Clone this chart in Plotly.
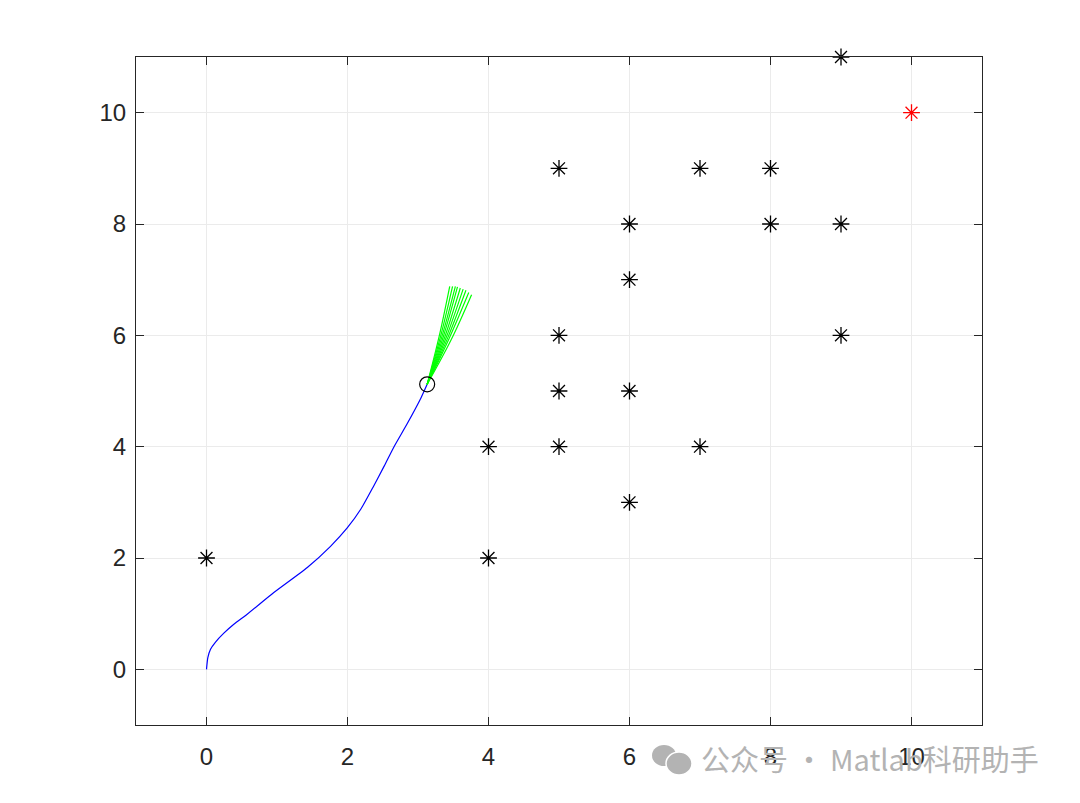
import plotly.graph_objects as go

# Obstacles
obs_x = [0, 4, 4, 5, 5, 5, 5, 6, 6, 6, 6, 7, 7, 8, 8, 9, 9, 9]
obs_y = [2, 2, 4, 4, 5, 6, 9, 3, 5, 7, 8, 4, 9, 8, 9, 6, 8, 11]

# Goal
goal_x = [10]
goal_y = [10]

# Robot trajectory (blue)
path_x = [0.0, 0.019, 0.057, 0.128, 0.246, 0.388, 0.577, 0.955, 1.43, 1.759, 1.996, 2.19, 2.37,
          2.52, 2.66, 2.85, 3.04, 3.13]
path_y = [0.0, 0.21, 0.36, 0.49, 0.65, 0.81, 0.99, 1.38, 1.83, 2.21, 2.54, 2.88, 3.29,
          3.65, 4.00, 4.42, 4.87, 5.12]

# Current robot position
robot_x = [3.13]
robot_y = [5.12]

# Predicted trajectories (green fan): mid points and end points
fan_mid_x = [3.30, 3.32, 3.34, 3.36, 3.38, 3.40, 3.42, 3.44, 3.47]
fan_mid_y = [5.98, 5.98, 5.98, 5.98, 5.97, 5.96, 5.95, 5.94, 5.92]
fan_end_x = [3.45, 3.49, 3.53, 3.56, 3.60, 3.64, 3.68, 3.72, 3.76]
fan_end_y = [6.88, 6.88, 6.88, 6.87, 6.85, 6.83, 6.81, 6.77, 6.73]

ticks = [0, 2, 4, 6, 8, 10]

fig = go.Figure()

fig.add_trace(go.Scatter(x=path_x, y=path_y, mode="lines",
                         line=dict(color="#0000ff", width=1.2, shape="spline", smoothing=0.6),
                         hoverinfo="skip"))

for mx, my, ex, ey in zip(fan_mid_x, fan_mid_y, fan_end_x, fan_end_y):
    fig.add_trace(go.Scatter(x=[robot_x[0], mx, ex], y=[robot_y[0], my, ey],
                             mode="lines", line=dict(color="#00ff00", width=1.2,
                                                     shape="spline"),
                             hoverinfo="skip"))

fig.add_trace(go.Scatter(x=obs_x, y=obs_y, mode="markers", cliponaxis=False,
                         marker=dict(symbol="asterisk-open", size=14, color="black",
                                     line=dict(color="black", width=1.3))))
fig.add_trace(go.Scatter(x=goal_x, y=goal_y, mode="markers", cliponaxis=False,
                         marker=dict(symbol="asterisk-open", size=14, color="#ff0000",
                                     line=dict(color="#ff0000", width=1.3))))
fig.add_trace(go.Scatter(x=robot_x, y=robot_y, mode="markers",
                         marker=dict(symbol="circle-open", size=15, color="black",
                                     line=dict(color="black", width=1.2))))

axis_common = dict(
    tickvals=ticks, ticktext=[str(t) for t in ticks],
    showgrid=True, gridcolor="#ebebeb", gridwidth=1,
    zeroline=False, showline=True, linecolor="#262626", linewidth=1,
    mirror="ticks", ticks="inside", ticklen=8, tickcolor="#262626",
    tickfont=dict(family="Liberation Sans, Arial, sans-serif", size=24, color="#262626"),
)

fig.update_xaxes(range=[-1, 11], ticklabelstandoff=10, **axis_common)
fig.update_yaxes(range=[-1, 11], ticklabelstandoff=4, **axis_common)

fig.add_annotation(text="公众号 · Matlab科研助手", xref="paper", yref="paper",
                   x=(699 - 136) / 846, y=-(758 - 725) / 668, xanchor="left", yanchor="middle",
                   showarrow=False,
                   font=dict(family="Noto Sans CJK SC", size=29, color="#b3b3b3"))
# WeChat-like icon
fig.add_shape(type="circle", xref="paper", yref="paper",
              x0=(652 - 136) / 846, x1=(676 - 136) / 846,
              y0=-(766 - 725) / 668, y1=-(745 - 725) / 668,
              fillcolor="#b3b3b3", line=dict(width=0))
fig.add_shape(type="circle", xref="paper", yref="paper",
              x0=(666 - 136) / 846, x1=(692 - 136) / 846,
              y0=-(775 - 725) / 668, y1=-(752 - 725) / 668,
              fillcolor="#b3b3b3", line=dict(color="white", width=1.5))

fig.update_layout(
    width=1080, height=803,
    margin=dict(l=128, r=106, t=49, b=86),
    plot_bgcolor="white", paper_bgcolor="white",
    showlegend=False,
)

fig.write_html("out.html")
